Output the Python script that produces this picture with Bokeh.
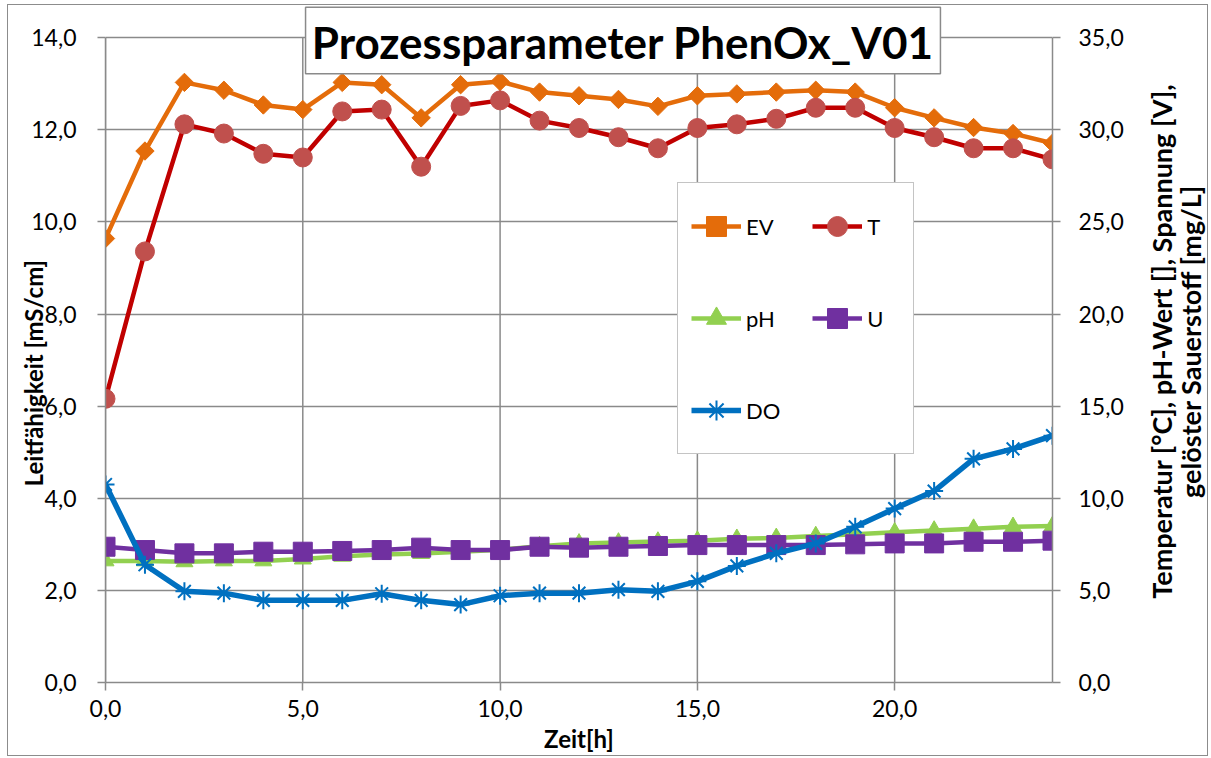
import numpy as np
from bokeh.plotting import figure
from bokeh.layouts import row
from bokeh.models import (Range1d, LinearAxis, FixedTicker, CustomJSTickFormatter,
                          Label, Legend, LegendItem, BoxAnnotation)
from bokeh.embed import file_html
from bokeh.resources import INLINE

# ---------------- data ----------------
hours = list(range(25))
EV = [9.64, 11.54, 13.03, 12.86, 12.54, 12.44, 13.03, 12.98, 12.26, 12.98, 13.05, 12.82, 12.74,
      12.66, 12.51, 12.74, 12.78, 12.82, 12.86, 12.82, 12.48, 12.26, 12.05, 11.92, 11.71]
T = [15.4, 23.4, 30.3, 29.8, 28.7, 28.5, 31.0, 31.1, 28.0, 31.3, 31.6, 30.5, 30.1,
     29.6, 29.0, 30.1, 30.3, 30.6, 31.2, 31.2, 30.1, 29.6, 29.0, 29.0, 28.4]
pH = [6.6, 6.6, 6.55, 6.6, 6.6, 6.7, 6.85, 6.95, 7.0, 7.1, 7.2, 7.4, 7.55,
      7.6, 7.65, 7.7, 7.8, 7.85, 7.95, 8.05, 8.15, 8.25, 8.35, 8.45, 8.5]
U = [7.37, 7.19, 7.01, 7.01, 7.10, 7.10, 7.14, 7.19, 7.32, 7.19, 7.19, 7.37, 7.32,
     7.37, 7.41, 7.46, 7.46, 7.46, 7.46, 7.50, 7.55, 7.55, 7.64, 7.64, 7.70]
DO = [10.75, 6.39, 4.95, 4.85, 4.46, 4.46, 4.46, 4.82, 4.46, 4.23, 4.71, 4.85, 4.85,
      5.04, 4.95, 5.49, 6.33, 7.01, 7.55, 8.45, 9.44, 10.39, 12.14, 12.68, 13.40]

x_ticks = [0, 5, 10, 15, 20]
left_ticks = [0, 2, 4, 6, 8, 10, 12, 14]
right_ticks = [0, 5, 10, 15, 20, 25, 30, 35]
x_max, left_max, right_max = 24, 14, 35

title_text = "Prozessparameter PhenOx_V01"
x_label = "Zeit[h]"
left_label = "Leitfähigkeit [mS/cm]"
right_label_1 = "Temperatur [°C], pH-Wert [], Spannung [V],"
right_label_2 = "gelöster Sauerstoff [mg/L]"

FONT = "Lato"
GRID = "#8a8a8a"
TOP_PAD = 1.05  # extra headroom (fraction) so the title box can sit above the 14,0 line
NBSP = "\u00a0"
H = 750
W_MAIN = 1124
W_SIDE = 75

p = figure(width=W_MAIN, height=H, output_backend="svg", toolbar_location=None,
           x_range=Range1d(0, x_max), y_range=Range1d(0, left_max * TOP_PAD),
           min_border_left=97, min_border_right=80, min_border_top=0, min_border_bottom=68)
p.extra_y_ranges = {"right": Range1d(0, right_max * TOP_PAD)}
p.outline_line_color = None

fmt = CustomJSTickFormatter(code="return tick.toFixed(1).replace('.', ',');")

# x axis
xa = p.xaxis[0]
xa.ticker = FixedTicker(ticks=x_ticks)
xa.formatter = fmt
xa.axis_label = x_label
xa.axis_label_standoff = 4
xa.major_label_standoff = 9

# left axis (non-breaking spaces shift the centred label down to the 0..14 region)
ya = p.yaxis[0]
ya.ticker = FixedTicker(ticks=left_ticks)
ya.formatter = fmt
ya.bounds = (0, left_max)
ya.axis_label = left_label + NBSP * 10
ya.axis_label_standoff = -20
ya.major_label_standoff = 21

# right axis
ra = LinearAxis(y_range_name="right", ticker=FixedTicker(ticks=right_ticks), formatter=fmt,
                bounds=(0, right_max), major_label_standoff=18)
p.add_layout(ra, "right")

for ax in [xa, ya, ra]:
    ax.axis_line_color = GRID
    ax.axis_line_width = 1.5
    ax.major_tick_line_color = GRID
    ax.major_tick_line_width = 1.5
    ax.major_tick_out = 8
    ax.major_tick_in = 0
    ax.minor_tick_line_color = None
    ax.major_label_text_font = FONT
    ax.major_label_text_font_size = "23px"
    ax.major_label_text_color = "black"
    ax.axis_label_text_font = FONT
    ax.axis_label_text_font_style = "bold"
    ax.axis_label_text_font_size = "24px"
    ax.axis_label_text_color = "black"

p.xgrid.visible = False
p.ygrid.ticker = FixedTicker(ticks=left_ticks)
p.ygrid[0].grid_line_color = GRID
p.ygrid[0].grid_line_width = 1.5

# vertical grid lines limited to the 0..14 region
p.segment(x0=x_ticks, y0=[0] * len(x_ticks), x1=x_ticks, y1=[left_max] * len(x_ticks),
          line_color=GRID, line_width=1.5)

# series
ev_l = p.line(hours, EV, line_color="#E46C0A", line_width=4.5)
ev_m = p.scatter(hours, EV, marker="square", angle=np.pi / 4, size=13,
                 fill_color="#E46C0A", line_color="#E46C0A")

t_l = p.line(hours, T, line_color="#C00000", line_width=4.5, y_range_name="right")
t_m = p.scatter(hours, T, marker="circle", size=19, fill_color="#C0504D", line_color="#C0504D",
                y_range_name="right")

ph_l = p.line(hours, pH, line_color="#92D050", line_width=4.5, y_range_name="right")
ph_m = p.scatter(hours, pH, marker="triangle", size=17, fill_color="#92D050", line_color="#92D050",
                 y_range_name="right")

u_l = p.line(hours, U, line_color="#7030A0", line_width=4.5, y_range_name="right")
u_m = p.scatter(hours, U, marker="square", size=19, fill_color="#7030A0", line_color="#7030A0",
                y_range_name="right")

do_l = p.line(hours, DO, line_color="#0070C0", line_width=5.5, y_range_name="right")
do_m = p.scatter(hours, DO, marker="asterisk", size=18, line_color="#0070C0", line_width=2,
                 y_range_name="right")

legend = Legend(items=[
    LegendItem(label="EV", renderers=[ev_l, ev_m]),
    LegendItem(label="T", renderers=[t_l, t_m]),
    LegendItem(label="pH", renderers=[ph_l, ph_m]),
    LegendItem(label="U", renderers=[u_l, u_m]),
    LegendItem(label="DO", renderers=[do_l, do_m]),
], location=(572, 228), orientation="horizontal", ncols=2,
    glyph_width=50, glyph_height=60, label_height=60, label_width=33, label_standoff=5,
    spacing=32, padding=13, margin=0,
    label_text_font=FONT, label_text_font_size="22px", label_text_color="black",
    border_line_color=GRID, border_line_width=1.5, background_fill_color="white",
    background_fill_alpha=1.0)
p.add_layout(legend, "center")

# title box + text
title_box = BoxAnnotation(left=5.07, right=21.16, top=14.66, bottom=13.22,
                          fill_color="white", fill_alpha=1.0,
                          line_color=GRID, line_width=1.5, line_alpha=1.0)
p.add_layout(title_box)
title = Label(x=13.11, y=13.91, text=title_text, text_align="center", text_baseline="alphabetic",
              text_font=FONT, text_font_style="bold", text_font_size="44px", text_color="black")
p.add_layout(title)

# side panel holding the right axis title (two lines reading bottom-to-top)
side = figure(width=W_SIDE, height=H, output_backend="svg", toolbar_location=None,
              x_range=Range1d(0, W_SIDE), y_range=Range1d(0, H),
              x_axis_type=None, y_axis_type=None,
              min_border_left=0, min_border_right=0, min_border_top=0, min_border_bottom=0)
side.outline_line_color = None
side.grid.visible = False
for sx, txt in [(29, right_label_1), (58, right_label_2)]:
    side.add_layout(Label(x=sx, y=378, text=txt, angle=np.pi / 2,
                          text_align="center", text_baseline="middle",
                          text_font=FONT, text_font_style="bold", text_font_size="27px",
                          text_color="black"))

layout = row(p, side, spacing=0)
layout.styles = {"border": "1px solid #8c8c8c", "margin-left": "7px", "margin-top": "4px",
                 "width": "fit-content"}

open("out.html", "w").write(file_html(layout, INLINE))
